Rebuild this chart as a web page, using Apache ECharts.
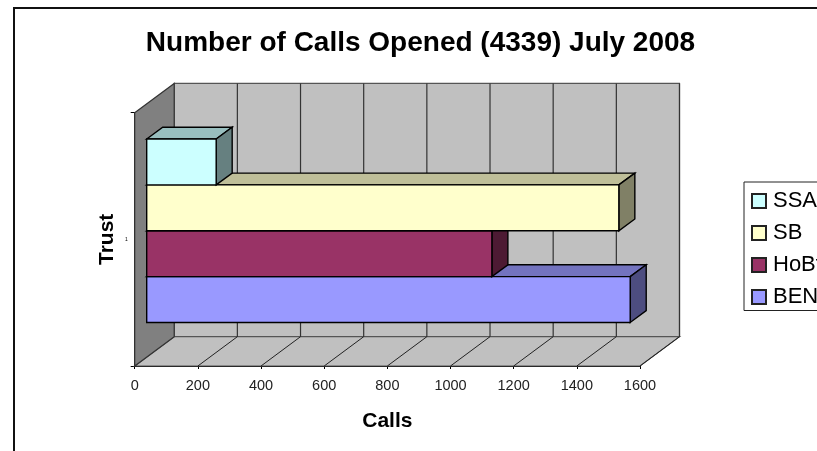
<!DOCTYPE html>
<html>
<head>
<meta charset="utf-8">
<script src="https://cdn.jsdelivr.net/npm/echarts@6/dist/echarts.min.js"></script>
<style>
  html, body { margin: 0; padding: 0; background: #fff; overflow: hidden; }
  #chart { width: 817px; height: 451px; }
</style>
</head>
<body>
<div id="chart"></div>
<script>
  // values, they add up to the 4339 in the title
  var categories = ['1'];
  var trusts = ['BEN', 'HoBt', 'SB', 'SSA'];
  var calls = [1531, 1093, 1495, 220];
  var barColors = ['#9999FF', '#993366', '#FFFFCC', '#CCFFFF'];
  var xTicks = [0, 200, 400, 600, 800, 1000, 1200, 1400, 1600];
  var legendOrder = ['SSA', 'SB', 'HoBt', 'BEN'];

  // 3D look: how far the back wall and the bars sit behind the front plane
  var WALL_DX = 39.5, WALL_DY = -29.3;
  var BAR_DX = 12, BAR_DY = -8.6;
  var BAR_DEPTH_X = 16, BAR_DEPTH_Y = -11.8;
  var BAR_FILL = 0.724; // share of the band the bar stack takes up

  function shade(hex, k) {
    var n = parseInt(hex.slice(1), 16);
    var r = Math.round((n >> 16 & 255) * k);
    var g = Math.round((n >> 8 & 255) * k);
    var b = Math.round((n & 255) * k);
    return 'rgb(' + r + ',' + g + ',' + b + ')';
  }

  function poly(points, fill, stroke, width) {
    return {
      type: 'polygon',
      shape: { points: points },
      style: { fill: fill, stroke: stroke, lineWidth: width }
    };
  }

  function line(x1, y1, x2, y2, stroke, width) {
    return {
      type: 'line',
      shape: { x1: x1, y1: y1, x2: x2, y2: y2 },
      style: { stroke: stroke, lineWidth: width }
    };
  }

  // walls and floor, then one grid line per tick
  function renderWalls(params, api) {
    if (params.dataIndex !== 0) {
      return renderTick(api);
    }
    var lo = api.coord([xTicks[0], categories[0]]);
    var hi = api.coord([xTicks[xTicks.length - 1], categories[0]]);
    var band = api.size([0, 1])[1];
    var top = lo[1] - band / 2, bottom = lo[1] + band / 2;
    var x0 = lo[0], x1 = hi[0];
    var dx = WALL_DX, dy = WALL_DY;
    return {
      type: 'group',
      children: [
        poly([[x0 + dx, top + dy], [x1 + dx, top + dy], [x1 + dx, bottom + dy], [x0 + dx, bottom + dy]], '#C0C0C0', '#555', 1.2),
        poly([[x0, bottom], [x1, bottom], [x1 + dx, bottom + dy], [x0 + dx, bottom + dy]], '#C0C0C0', '#555', 1.2),
        poly([[x0, top], [x0 + dx, top + dy], [x0 + dx, bottom + dy], [x0, bottom]], '#808080', '#333', 1.2)
      ]
    };
  }

  function renderTick(api) {
    var c = api.coord([api.value(0), categories[0]]);
    var band = api.size([0, 1])[1];
    var top = c[1] - band / 2, bottom = c[1] + band / 2;
    return {
      type: 'group',
      children: [
        line(c[0] + WALL_DX, top + WALL_DY, c[0] + WALL_DX, bottom + WALL_DY, '#333', 1.2),
        line(c[0], bottom, c[0] + WALL_DX, bottom + WALL_DY, '#222', 1)
      ]
    };
  }

  // one stacked 3D segment: data item is [start, end]
  function renderBar(params, api) {
    var color = barColors[params.seriesIndex - 1];
    var n = trusts.length;
    var idx = params.seriesIndex - 1;
    var a = api.coord([api.value(0), categories[0]]);
    var b = api.coord([api.value(1), categories[0]]);
    var band = api.size([0, 1])[1];
    var h = band * BAR_FILL / n;
    var stackBottom = a[1] + BAR_DY + band * BAR_FILL / 2;
    // stacked along the category, so each trust has the same length start
    var x0 = a[0] + BAR_DX, x1 = b[0] + BAR_DX;
    var yb = stackBottom - idx * h, yt = yb - h;
    var dx = BAR_DEPTH_X, dy = BAR_DEPTH_Y;
    return {
      type: 'group',
      children: [
        poly([[x0, yt], [x0 + dx, yt + dy], [x1 + dx, yt + dy], [x1, yt]], shade(color, 0.75), '#000', 1.4),
        poly([[x1, yt], [x1 + dx, yt + dy], [x1 + dx, yb + dy], [x1, yb]], shade(color, 0.5), '#000', 1.4),
        poly([[x0, yt], [x1, yt], [x1, yb], [x0, yb]], color, '#000', 1.4)
      ]
    };
  }

  var series = [{
    type: 'custom',
    name: 'walls',
    silent: true,
    z: 1,
    renderItem: renderWalls,
    encode: { x: 0 },
    data: xTicks.map(function (t) { return [t]; })
  }];
  trusts.forEach(function (name, i) {
    series.push({
      type: 'custom',
      name: name,
      z: 2,
      itemStyle: { color: barColors[i], borderColor: '#222', borderWidth: 1.2 },
      renderItem: renderBar,
      encode: { x: [0, 1] },
      data: [[0, calls[i]]]
    });
  });

  var myChart = echarts.init(document.getElementById('chart'));
  myChart.setOption({
    animation: false,
    backgroundColor: '#fff',
    textStyle: { fontFamily: 'Liberation Sans' },
    title: {
      text: 'Number of Calls Opened (4339) July 2008',
      left: 415.5,
      top: 24,
      textAlign: 'center',
      textStyle: { fontSize: 28, fontWeight: 'bold', color: '#000', fontFamily: 'Liberation Sans' }
    },
    legend: {
      orient: 'vertical',
      left: 744,
      top: 182,
      data: legendOrder,
      padding: [8, 7, 2.5, 7],
      itemGap: 10,
      itemWidth: 14,
      itemHeight: 14,
      borderColor: '#222',
      borderWidth: 1,
      backgroundColor: '#fff',
      icon: 'rect',
      selectedMode: false,
      textStyle: { fontSize: 22, color: '#000', padding: [0, 0, 0, 2] }
    },
    grid: { left: 134.7, top: 112.7, width: 505.3, height: 253.3 },
    xAxis: {
      type: 'value',
      min: 0,
      max: 1600,
      interval: 200,
      name: 'Calls',
      nameLocation: 'middle',
      nameGap: 45,
      nameTextStyle: { fontSize: 21, fontWeight: 'bold', color: '#000' },
      axisLine: { show: true, lineStyle: { color: '#000', width: 1 } },
      axisTick: { show: true, length: 3, lineStyle: { color: '#000' } },
      axisLabel: {
        fontSize: 14.5,
        color: '#222',
        margin: 12,
        formatter: function (v) { return String(v); }
      },
      splitLine: { show: false }
    },
    yAxis: {
      type: 'category',
      data: categories,
      name: 'Trust',
      nameLocation: 'middle',
      nameGap: 17,
      nameMoveOverlap: false,
      nameRotate: 90,
      nameTextStyle: { fontSize: 21, fontWeight: 'bold', color: '#000' },
      axisLine: { show: true, lineStyle: { color: '#000', width: 1 } },
      axisTick: { show: true, length: 4, lineStyle: { color: '#000' } },
      axisLabel: { fontSize: 5, color: '#000', margin: 7 }
    },
    graphic: [{
      type: 'polyline',
      silent: true,
      shape: { points: [[14, 460], [14, 8], [830, 8]] },
      style: { fill: null, stroke: '#111', lineWidth: 2 }
    }],
    series: series
  });
</script>
</body>
</html>
